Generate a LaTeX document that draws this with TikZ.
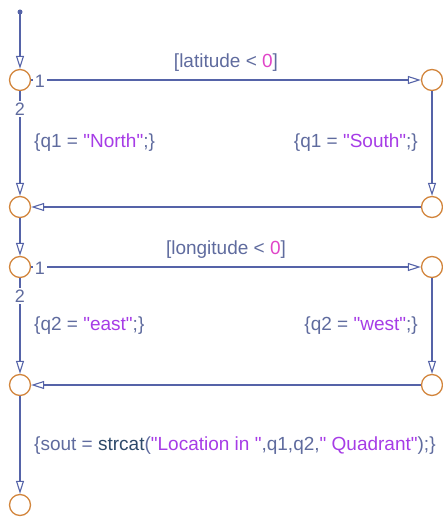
\documentclass[tikz,border=0pt]{standalone}
\usepackage{fontspec}
\setmainfont{Liberation Sans}
\usetikzlibrary{arrows.meta}
\definecolor{wire}{HTML}{5563A8}
\definecolor{junc}{HTML}{D2853C}
\definecolor{txt}{HTML}{5F6B9E}
\definecolor{str}{HTML}{A63CE6}
\definecolor{num}{HTML}{E045C8}
\definecolor{fn}{HTML}{2E4A6A}
\newcommand{\strg}[1]{\textcolor{str}{\textquotedbl#1\textquotedbl}}
\tikzset{
  junction/.style={circle,draw=junc,line width=1.3pt,minimum size=21pt,inner sep=0pt,fill=white},
  trans/.style={draw=wire,line width=1.1pt,-{Triangle[open,length=13pt,width=8pt]}},
  lbl/.style={text=txt,font=\fontsize{19}{22}\selectfont,inner sep=1pt},
  port/.style={text=txt,font=\fontsize{18}{22}\selectfont,fill=white,inner sep=2pt},
}
\begin{document}
\begin{tikzpicture}[x=1pt,y=-1pt]
\useasboundingbox (0,0) rectangle (443,518);
% junctions
\coordinate (start) at (20,12);
\node[junction] (a1) at (20,80) {};
\node[junction] (a2) at (20,207) {};
\node[junction] (a3) at (20,267) {};
\node[junction] (a4) at (20,385) {};
\node[junction] (a5) at (20,505) {};
\node[junction] (b1) at (432,80) {};
\node[junction] (b2) at (432,207) {};
\node[junction] (b3) at (432,267) {};
\node[junction] (b4) at (432,385) {};
\fill[wire] (start) circle (2.5pt);
% transitions
\draw[trans] (start) -- (a1);
\draw[trans] (a1) -- (b1);
\draw[trans] (a1) -- (a2);
\draw[trans] (b1) -- (b2);
\draw[trans] (b2) -- (a2);
\draw[trans] (a2) -- (a3);
\draw[trans] (a3) -- (b3);
\draw[trans] (a3) -- (a4);
\draw[trans] (b3) -- (b4);
\draw[trans] (b4) -- (a4);
\draw[trans] (a4) -- (a5);
% execution order
\node[port] (o11) at (40,81) {1};
\node[port] (o12) at (20,109) {2};
\node[port] (o21) at (40,268) {1};
\node[port] (o22) at (20,296) {2};
% labels
\node[lbl] (lat) at (226,63) {[latitude < \textcolor{num}{0}]};
\node[lbl,anchor=west] (north) at (33,143) {\{q1 = \strg{North};\}};
\node[lbl,anchor=east] (south) at (419,143) {\{q1 = \strg{South};\}};
\node[lbl] (lon) at (226,250) {[longitude < \textcolor{num}{0}]};
\node[lbl,anchor=west] (east) at (33,326) {\{q2 = \strg{east};\}};
\node[lbl,anchor=east] (west) at (419,326) {\{q2 = \strg{west};\}};
\node[lbl,anchor=west] (sout) at (33,446) {\{sout = \textcolor{fn}{strcat}(\strg{Location in },q1,q2,\strg{ Quadrant});\}};
\end{tikzpicture}
\end{document}
